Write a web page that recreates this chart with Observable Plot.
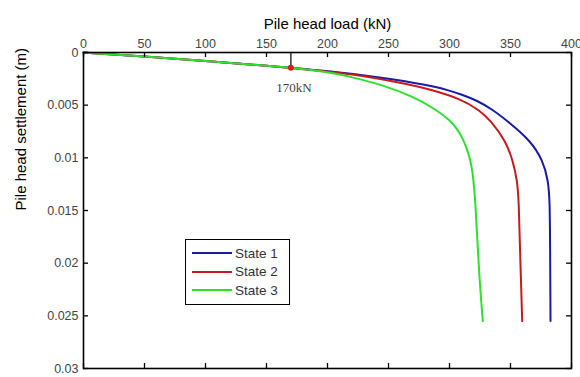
<!DOCTYPE html>
<html><head><meta charset="utf-8">
<script src="https://cdn.jsdelivr.net/npm/d3@7"></script>
<script src="https://cdn.jsdelivr.net/npm/@observablehq/plot@0.6"></script>
<style>
body{margin:0;background:#fff;}
#wrap{position:relative;width:580px;height:377px;}
.legend{position:absolute;left:185px;top:239px;width:105px;height:66px;border:1.5px solid #000;background:#fff;font:13.5px "Liberation Sans",Arial,sans-serif;color:#333;box-sizing:border-box;padding-top:4px}
.legend .row{display:flex;align-items:center;height:18.5px}
.legend .sw{width:40px;height:2px;margin-left:6px;margin-right:3px}
</style></head>
<body><div id="wrap"></div>
<script>
const seriesNames = ["State 1", "State 2", "State 3"];
const seriesColors = ["#1a1aa6", "#c41c1c", "#2edf2e"];

const load1 = [0, 50, 100, 150, 200, 243, 284, 298, 310, 322.6, 335, 347, 366.4, 376.5, 380.9, 382.2, 382.5, 382.8];
const settle1 = [0, 0.00038, 0.0008, 0.00125, 0.00175, 0.00235, 0.00313, 0.00354, 0.004, 0.00456, 0.0054, 0.00646, 0.00835, 0.01025, 0.01215, 0.01405, 0.0188, 0.0255];

const load2 = [0, 50, 100, 150, 200, 222, 243, 265, 284, 309, 325, 333.6, 345.9, 351.9, 355.5, 356.8, 357.8, 359.6];
const settle2 = [0, 0.00038, 0.0008, 0.00125, 0.0018, 0.0021, 0.0025, 0.003, 0.0035, 0.0044, 0.0055, 0.00646, 0.00835, 0.01025, 0.01215, 0.01405, 0.0188, 0.0255];

const load3 = [0, 50, 100, 150, 175, 200, 222, 243, 270.8, 290, 300, 306, 311, 314.5, 317, 318.8, 321.3, 324, 327.3];
const settle3 = [0, 0.00038, 0.0008, 0.00125, 0.0015, 0.00185, 0.0024, 0.003, 0.0042, 0.0055, 0.0064, 0.0072, 0.0082, 0.0092, 0.0102, 0.0112, 0.014, 0.0207, 0.0255];

const xTicks = [0, 50, 100, 150, 200, 250, 300, 350, 400];
const yTicks = [0, 0.005, 0.01, 0.015, 0.02, 0.025, 0.03];

const markerLoad = 170;
const markerSettlement = 0.00145;
const markerLabel = "170kN";

const xLabel = "Pile head load (kN)";
const yLabel = "Pile head settlement (m)";

const loads = [load1, load2, load3];
const settles = [settle1, settle2, settle3];
const rows = seriesNames.flatMap((s, i) => loads[i].map((l, j) => ({state: s, load: l, settlement: settles[i][j]})));

const W = 580, H = 377, mL = 83, mR = 9, mT = 52, mB = 9;
const innerW = W - mL - mR, innerH = H - mT - mB, tl = 5;

const chart = Plot.plot({
  width: W, height: H,
  marginLeft: mL, marginRight: mR, marginTop: mT, marginBottom: mB,
  style: {fontFamily: '"Liberation Sans", Arial, sans-serif', fontSize: "12.5px", color: "#333", background: "#fff", overflow: "visible"},
  x: {domain: [0, 400]},
  y: {domain: [0, 0.03], reverse: true},
  color: {domain: seriesNames, range: seriesColors},
  marks: [
    Plot.line(rows, {x: "load", y: "settlement", z: "state", stroke: "state", strokeWidth: 2, curve: "basis"}),
    Plot.ruleX([markerLoad], {x: d => d, y1: 0, y2: markerSettlement, stroke: "#000", strokeWidth: 1.2}),
    Plot.dot([markerLoad], {x: d => d, y: markerSettlement, r: 3, fill: "#e8141c"}),
    Plot.text([markerLabel], {x: markerLoad, y: markerSettlement, dy: 20, dx: 3, fontFamily: '"Liberation Serif", "Times New Roman", serif', fontSize: 13, fill: "#444"}),
    Plot.tickX(xTicks, {x: d => d, insetBottom: innerH - tl, stroke: "#000", strokeWidth: 1.3}),
    Plot.tickX(xTicks, {x: d => d, insetTop: innerH - tl, stroke: "#000", strokeWidth: 1.3}),
    Plot.tickY(yTicks, {y: d => d, insetRight: innerW - tl, stroke: "#000", strokeWidth: 1.3}),
    Plot.tickY(yTicks, {y: d => d, insetLeft: innerW - tl, stroke: "#000", strokeWidth: 1.3}),
    Plot.frame({stroke: "#000", strokeWidth: 1.6}),
    Plot.axisX({anchor: "top", ticks: xTicks, tickSize: 0, tickPadding: 5, label: null, tickFormat: d3.format("~g"), fill: "#444"}),
    Plot.axisY({anchor: "left", ticks: yTicks, tickSize: 0, tickPadding: 5, label: null, tickFormat: d3.format("~g"), fill: "#444"}),
    Plot.text([xLabel], {frameAnchor: "top", dy: -34, fontSize: 15, fill: "#000"}),
    Plot.text([yLabel], {frameAnchor: "left", dx: -62, rotate: -90, fontSize: 15, fill: "#000"})
  ]
});
const wrap = document.getElementById("wrap");
wrap.appendChild(chart);

const legend = document.createElement("div");
legend.className = "legend";
seriesNames.forEach((s, i) => {
  const row = document.createElement("div");
  row.className = "row";
  const sw = document.createElement("span");
  sw.className = "sw";
  sw.style.background = seriesColors[i];
  const t = document.createElement("span");
  t.textContent = s;
  row.appendChild(sw); row.appendChild(t);
  legend.appendChild(row);
});
wrap.appendChild(legend);
</script>
</body></html>
